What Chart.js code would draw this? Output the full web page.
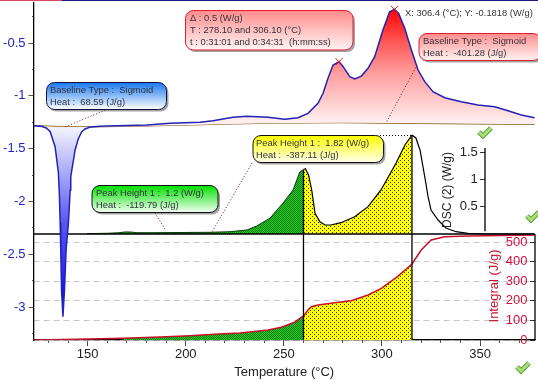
<!DOCTYPE html>
<html>
<head>
<meta charset="utf-8">
<title>DSC</title>
<script src="https://cdn.jsdelivr.net/npm/chart.js@4"></script>
<style>
  html, body { margin: 0; padding: 0; background: #fff; }
  canvas { display: block; }
</style>
</head>
<body>
<canvas id="grafico" width="538" height="380"></canvas>
<script>
// Heat flow curve (top, blue) in W/g
const heatTemps = [122.4, 126.8, 128.9, 130.9, 133.4, 135.1, 135.6, 136.0, 136.3, 136.7, 137.4, 138.2, 139.0, 140.2, 141.1, 141.4, 143.6, 145.2, 147.0, 148.7, 151.3, 156.4, 159.8, 180.2, 192.0, 207.3, 213.9, 224.1, 231.1, 241.9, 250.5, 257.2, 262.3, 267.4, 270.0, 272.5, 275.1, 278.1, 280.2, 283.6, 286.1, 289.5, 292.9, 296.3, 300.5, 303.9, 306.4, 308.5, 311.6, 315.0, 318.4, 321.8, 326.0, 332.0, 340.4, 348.9, 357.4, 364.2, 371.0, 377.8];
const heatValues = [-1.283, -1.291, -1.305, -1.340, -1.482, -1.731, -1.939, -2.205, -2.460, -2.839, -3.092, -2.839, -2.460, -2.205, -1.892, -1.766, -1.513, -1.409, -1.340, -1.314, -1.295, -1.288, -1.286, -1.277, -1.260, -1.251, -1.236, -1.204, -1.194, -1.204, -1.223, -1.207, -1.166, -1.071, -0.976, -0.834, -0.708, -0.677, -0.724, -0.819, -0.841, -0.813, -0.740, -0.630, -0.377, -0.204, -0.1818, -0.219, -0.361, -0.566, -0.756, -0.866, -0.961, -1.018, -1.056, -1.087, -1.103, -1.141, -1.182, -1.207];

// Sigmoid baseline under the heat flow curve
const baseTemps = [122.4, 139.0, 151.3, 180.2, 224.1, 241.9, 279.1, 301.4, 377.8];
const baseValues = [-1.283, -1.295, -1.295, -1.286, -1.267, -1.260, -1.255, -1.258, -1.270];

// Picked peaks
const peakTemps = [278.1, 306.4];
const peakValues = [-0.677, -0.1818];

// DSC (2) curve, green part then yellow part
const dscGreenTemps = [149.6, 159.8, 165.5, 169.1, 171.7, 175.1, 183.4, 212.4, 222.6, 231.1, 236.2, 243.0, 249.6, 254.7, 258.1, 260.0];
const dscGreenValues = [0.006, 0.013, 0.022, 0.037, 0.037, 0.024, 0.024, 0.031, 0.042, 0.074, 0.147, 0.294, 0.570, 0.809, 1.140, 1.186];
const dscYellowTemps = [260.0, 261.0, 261.8, 262.6, 264.2, 265.9, 268.4, 271.0, 274.0, 279.1, 286.1, 292.9, 299.5, 307.2, 311.7, 315.3];
const dscYellowValues = [1.186, 1.2, 1.140, 1.085, 0.809, 0.381, 0.226, 0.165, 0.165, 0.208, 0.318, 0.502, 0.809, 1.305, 1.636, 1.82];
const dscTailTemps = [315.3, 317.3, 319.4, 321.8, 323.5, 325.0, 328.6, 332.6, 337.7, 343.8, 352.5, 377.8];
const dscTailValues = [1.82, 1.765, 1.544, 1.053, 0.686, 0.441, 0.257, 0.110, 0.042, 0.013, 0, 0];
const dscZeroTemps = [122.4, 377.8];
const dscZeroValues = [0, 0];

// Integral curve in J/g
const integralStartTemps = [122.4, 144.5, 168.1];
const integralStartValues = [0, 3.6, 8.7];
const integralGreenTemps = [168.1, 186.9, 202.2, 216.5, 227.7, 241.9, 248.7, 255.5, 260.0];
const integralGreenValues = [8.7, 15, 22, 31, 36, 51, 65, 91, 123];
const integralYellowTemps = [260.0, 262.3, 264.0, 267.4, 275.9, 284.4, 292.9, 299.7, 307.9, 315.3];
const integralYellowValues = [123, 153, 170, 179, 191, 201, 230, 264, 324, 389];
const integralTailTemps = [315.3, 320.0, 325.1, 331.9, 343.8, 377.8];
const integralTailValues = [389, 460, 512, 528, 532, 537];

// Vertical limits of the integration
const dividerTemps = [260.0, 315.3];
const dividerTops = [-1.703, -1.378];

// Ticks
const tempLabels = [150, 200, 250, 300, 350];
const heatLabels = [-0.5, -1, -1.5, -2, -2.5, -3];
const dscLabels = [0.5, 1, 1.5];
const integralLabels = [0, 100, 200, 300, 400, 500];

const TEMP_MIN = 122.4, TEMP_MAX = 378;
const HEAT_MIN = -3.3125, HEAT_MAX = -0.121;
const FONT = '"Liberation Sans", Arial, sans-serif';

const canvasGrafico = document.getElementById('grafico');
const ctx = canvasGrafico.getContext('2d');

function zipPoints(xs, ys) {
    return xs.map((x, i) => ({ x: x, y: ys[i] }));
}

// Dotted fills
function makePattern(size, base, dot, dots) {
    const tile = document.createElement('canvas');
    tile.width = size;
    tile.height = size;
    const t = tile.getContext('2d');
    t.fillStyle = base;
    t.fillRect(0, 0, size, size);
    t.fillStyle = dot;
    dots.forEach(d => t.fillRect(d[0], d[1], 1, 1));
    return ctx.createPattern(tile, 'repeat');
}
const yellowDots = makePattern(4, '#ffff10', '#3a3a00', [[0, 0], [2, 2]]);
const greenDots = makePattern(2, '#26d026', '#0e7a0e', [[0, 0], [1, 1]]);

const redFade = ctx.createLinearGradient(0, 8, 0, 125);
redFade.addColorStop(0, '#ff0000');
redFade.addColorStop(0.3, '#ff5a5a');
redFade.addColorStop(0.55, '#ff9c9c');
redFade.addColorStop(1, '#fff4f4');
const blueFade = ctx.createLinearGradient(0, 127, 0, 316);
blueFade.addColorStop(0, '#f4f4ff');
blueFade.addColorStop(0.5, '#5a5af0');
blueFade.addColorStop(1, '#0000f0');

function thinLine(points, color, width, extra) {
    return Object.assign({
        data: points,
        borderColor: color,
        borderWidth: width,
        pointRadius: 0,
        fill: false,
        yAxisID: 'y'
    }, extra || {});
}

const datasets = [
    thinLine(zipPoints(peakTemps, peakValues), '#e0101c', 1, { showLine: false, pointStyle: 'crossRot', pointRadius: 5, pointBorderColor: '#e0101c', pointBorderWidth: 1 }),
    thinLine(zipPoints(dividerTemps.slice(0, 1).concat(dividerTemps[0]), [dividerTops[0], HEAT_MIN]), '#000', 1.3),
    thinLine(zipPoints(dividerTemps.slice(1).concat(dividerTemps[1]), [dividerTops[1], HEAT_MIN]), '#000', 1.3),
    thinLine(zipPoints(heatTemps, heatValues), '#2222b8', 1.5, { fill: { target: 4, above: redFade, below: blueFade } }),
    thinLine(zipPoints(baseTemps, baseValues), '#8a5a20', 1.2),
    thinLine(zipPoints(dscZeroTemps, dscZeroValues), '#000', 1.3, { yAxisID: 'yDsc' }),
    thinLine(zipPoints(dscGreenTemps, dscGreenValues), '#0a3a0a', 1, { yAxisID: 'yDsc', fill: { value: 0 }, backgroundColor: greenDots }),
    thinLine(zipPoints(dscYellowTemps, dscYellowValues), '#000', 1.2, { yAxisID: 'yDsc', fill: { value: 0 }, backgroundColor: yellowDots }),
    thinLine(zipPoints(dscTailTemps, dscTailValues), '#000', 1.2, { yAxisID: 'yDsc' }),
    thinLine(zipPoints(integralStartTemps, integralStartValues), '#c8102c', 1.5, { yAxisID: 'yIntegral' }),
    thinLine(zipPoints(integralGreenTemps, integralGreenValues), '#c8102c', 1.5, { yAxisID: 'yIntegral', fill: { value: 0 }, backgroundColor: greenDots }),
    thinLine(zipPoints(integralYellowTemps, integralYellowValues), '#c8102c', 1.5, { yAxisID: 'yIntegral', fill: { value: 0 }, backgroundColor: yellowDots }),
    thinLine(zipPoints(integralTailTemps, integralTailValues), '#c8102c', 1.5, { yAxisID: 'yIntegral' })
];

// Callout boxes, leaders and the little window details
const callouts = [
    { box: [46.5, 82.5, 120, 27], top: '#1878f0', bottom: '#ffffff', edge: '#101040', textX: 50, lines: [[90, 'Baseline Type :  Sigmoid'], [102, 'Heat :  68.59 (J/g)']] },
    { box: [92, 185.5, 126, 27], top: '#00e000', bottom: '#f4fff4', edge: '#101010', textX: 96, lines: [[193, 'Peak Height 1 :  1.2 (W/g)'], [205, 'Heat :  -119.79 (J/g)']] },
    { box: [253, 135.5, 130.5, 27], top: '#ffff00', bottom: '#fffff0', edge: '#101010', textX: 256, lines: [[143, 'Peak Height 1 :  1.82 (W/g)'], [155, 'Heat :  -387.11 (J/g)']] },
    { box: [185.5, 10.5, 167.5, 39.5], top: '#ff8c8c', bottom: '#fff4f4', edge: '#e01c30', textX: 190, lines: [[18, '\u0394 : 0.5 (W/g)'], [30, 'T : 278.10 and 306.10 (\u00b0C)'], [42, 't : 0:31:01 and 0:34:31  (h:mm:ss)']] },
    { box: [419, 33.5, 122, 27], top: '#ff8c8c', bottom: '#fff4f4', edge: '#e01c30', textX: 423, lines: [[41, 'Baseline Type :  Sigmoid'], [53, 'Heat :  -401.28 (J/g)']] }
];
const leaders = [
    [108, 109, 65, 127, '#7a1020'],
    [417, 65, 386, 123, '#7a1020'],
    [252, 163, 212, 232, '#7a1020'],
    [155, 213, 166, 231, '#7a1020'],
    [380, 135.5, 412, 135.5, '#000000']
];
const checks = [[485, 133], [533, 217], [523, 368]];

function roundBox(c, x, y, w, h, r) {
    c.beginPath();
    c.roundRect(x, y, w, h, r);
}

const extrasPlugin = {
    id: 'extras',
    beforeDraw(chart) {
        const c = chart.ctx;
        c.save();
        c.fillStyle = '#ffffff';
        c.fillRect(0, 0, 538, 380);
        c.fillStyle = '#d84860';
        c.fillRect(0, 0, 62, 1);
        c.fillStyle = '#1a1a80';
        c.fillRect(62, 0, 476, 1);
        c.restore();
    },
    afterDatasetsDraw(chart) {
        const c = chart.ctx;
        const { x, yDsc, yIntegral } = chart.scales;
        c.save();

        // Short axes inside the plot
        c.strokeStyle = '#000';
        c.lineWidth = 1.3;
        const dscX = Math.round(x.getPixelForValue(352.5));
        c.beginPath();
        c.moveTo(dscX, yDsc.getPixelForValue(1.58));
        c.lineTo(dscX, yDsc.getPixelForValue(0.05));
        c.stroke();
        const intX = Math.round(x.getPixelForValue(377.8));
        c.beginPath();
        c.moveTo(intX, yIntegral.getPixelForValue(541));
        c.lineTo(intX, yIntegral.getPixelForValue(0));
        c.stroke();

        // Axis names
        c.textBaseline = 'middle';
        c.textAlign = 'center';
        c.font = '12px ' + FONT;
        c.fillStyle = '#222';
        c.save();
        c.translate(448, 190);
        c.rotate(-Math.PI / 2);
        c.fillText('DSC (2) (W/g)', 0, 0);
        c.restore();
        c.font = '13px ' + FONT;
        c.fillStyle = '#c8102c';
        c.save();
        c.translate(494, 286);
        c.rotate(-Math.PI / 2);
        c.fillText('Integral (J/g)', 0, 0);
        c.restore();

        // Leaders
        c.lineWidth = 1;
        c.setLineDash([1, 2]);
        leaders.forEach(l => {
            c.strokeStyle = l[4];
            c.beginPath();
            c.moveTo(l[0], l[1]);
            c.lineTo(l[2], l[3]);
            c.stroke();
        });
        c.setLineDash([]);

        // Callouts
        callouts.forEach(b => {
            const [bx, by, bw, bh] = b.box;
            c.fillStyle = 'rgba(90,90,90,0.55)';
            roundBox(c, bx + 2, by + 2, bw, bh, 8);
            c.fill();
            const g = c.createLinearGradient(0, by, 0, by + bh);
            g.addColorStop(0, b.top);
            g.addColorStop(1, b.bottom);
            c.fillStyle = g;
            roundBox(c, bx, by, bw, bh, 8);
            c.fill();
            c.strokeStyle = b.edge;
            c.lineWidth = 1;
            c.stroke();
            c.fillStyle = '#33333c';
            c.font = '9.4px ' + FONT;
            c.textAlign = 'left';
            b.lines.forEach(l => c.fillText(l[1], b.textX, l[0]));
        });

        // Peak read-out
        c.fillStyle = '#33333c';
        c.font = '9.4px ' + FONT;
        c.textAlign = 'left';
        c.fillText('X: 306.4 (\u00b0C); Y: -0.1818 (W/g)', 405, 13);

        // Green ticks
        checks.forEach(k => {
            c.lineJoin = 'miter';
            c.beginPath();
            c.moveTo(k[0] - 6, k[1] - 1);
            c.lineTo(k[0] - 2, k[1] + 3);
            c.lineTo(k[0] + 6, k[1] - 5);
            c.strokeStyle = '#5f9f3c';
            c.lineWidth = 5;
            c.stroke();
            c.strokeStyle = '#a8e078';
            c.lineWidth = 3;
            c.stroke();
        });
        c.restore();
    }
};

// The extra axes sit inside the plot, so their labels must not push the plot area
const noVerticalPadding = s => { s.paddingTop = 0; s.paddingBottom = 0; };

new Chart(ctx, {
    type: 'line',
    data: { datasets: datasets },
    plugins: [extrasPlugin],
    options: {
        responsive: false,
        animation: false,
        layout: { autoPadding: false, padding: { top: 3, right: 3, left: 0, bottom: 0 } },
        plugins: { legend: { display: false }, tooltip: { enabled: false } },
        scales: {
            x: {
                type: 'linear',
                min: TEMP_MIN,
                max: TEMP_MAX,
                afterFit: s => { s.height = 40; s.paddingLeft = 0; s.paddingRight = 0; },
                afterBuildTicks: s => { s.ticks = tempLabels.map(v => ({ value: v })); },
                border: { color: '#000', width: 1.3 },
                grid: { drawOnChartArea: false, tickLength: 6, color: '#444' },
                ticks: { color: '#222', font: { family: FONT, size: 13 }, padding: 1, maxRotation: 0, autoSkip: false },
                title: { display: true, text: 'Temperature (\u00b0C)', color: '#222', font: { family: FONT, size: 13 }, padding: { top: 1, bottom: 0 } }
            },
            xMinor: {
                type: 'linear',
                axis: 'x',
                min: TEMP_MIN,
                max: TEMP_MAX,
                position: { y: HEAT_MIN },
                border: { display: false },
                grid: { drawOnChartArea: false, tickLength: 3, color: '#555' },
                ticks: { display: false, stepSize: 10, includeBounds: false }
            },
            y: {
                type: 'linear',
                min: HEAT_MIN,
                max: HEAT_MAX,
                afterFit: s => { s.width = 33.5; noVerticalPadding(s); },
                afterBuildTicks: s => { s.ticks = heatLabels.map(v => ({ value: v })); },
                border: { color: '#000', width: 1.3 },
                grid: { drawOnChartArea: false, tickLength: 5, color: '#555' },
                ticks: { color: '#2222c8', font: { family: FONT, size: 13 }, padding: 3, callback: v => String(v) }
            },
            yMinor: {
                type: 'linear',
                axis: 'y',
                min: HEAT_MIN,
                max: HEAT_MAX,
                position: { x: TEMP_MIN },
                afterFit: noVerticalPadding,
                border: { display: false },
                grid: { drawOnChartArea: false, tickLength: 2, color: '#555' },
                ticks: { display: false, stepSize: 0.25, includeBounds: false }
            },
            yDsc: {
                type: 'linear',
                min: -1.9485,
                max: 4.246,
                position: { x: 352.5 },
                afterFit: noVerticalPadding,
                afterBuildTicks: s => { s.ticks = dscLabels.map(v => ({ value: v })); },
                border: { display: false },
                grid: { drawOnChartArea: false, tickLength: 5, color: '#333' },
                ticks: { color: '#222', font: { family: FONT, size: 13 }, callback: v => v + '  ' }
            },
            yIntegral: {
                type: 'linear',
                min: 0,
                max: 1724,
                position: { x: 377.8 },
                afterFit: noVerticalPadding,
                afterBuildTicks: s => { s.ticks = integralLabels.map(v => ({ value: v })); },
                border: { display: false, dash: [6, 4] },
                grid: { drawOnChartArea: true, tickLength: 5, color: '#c8c8c8', tickColor: '#333' },
                ticks: { color: '#d0103c', font: { family: FONT, size: 13 }, callback: v => v + '  ' }
            }
        }
    }
});
</script>
</body>
</html>
